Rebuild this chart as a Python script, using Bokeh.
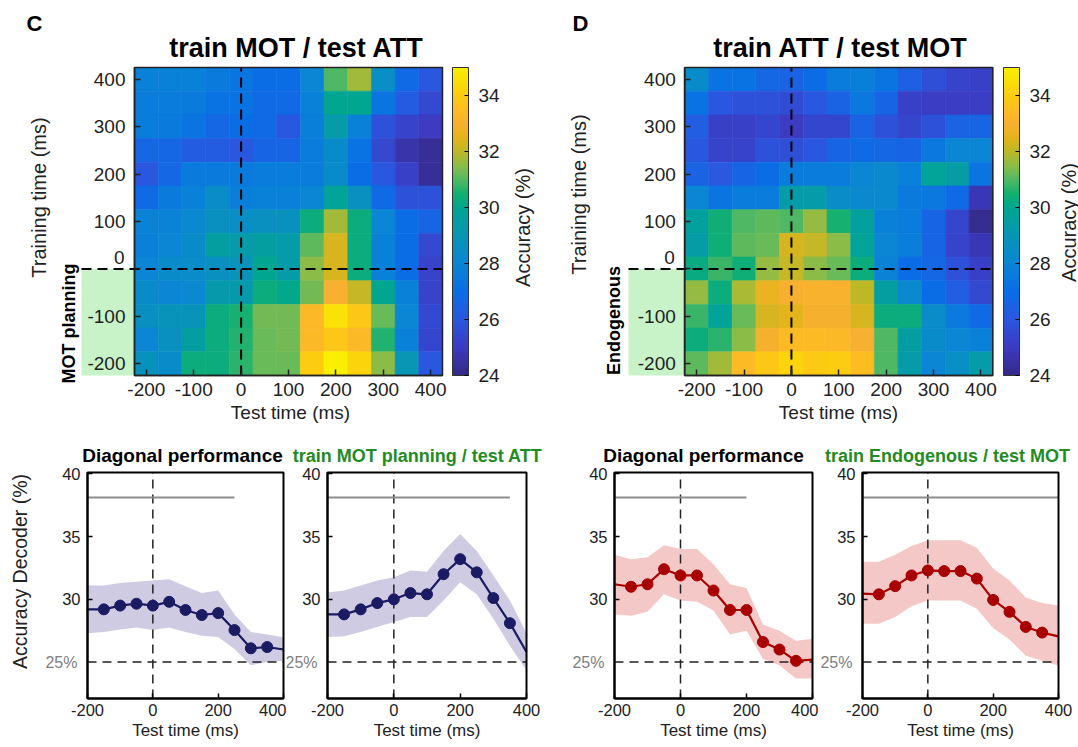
import numpy as np
from bokeh.plotting import figure
from bokeh.models import (Range1d, LinearAxis, FixedTicker, ColorBar,
                          LinearColorMapper, ColumnDataSource)
from bokeh.layouts import column, row
from bokeh.embed import file_html
from bokeh.resources import INLINE
from bokeh.core.properties import value
from bokeh.transform import transform

# ---------------------------------------------------------------- data
test_times = [-200, -150, -100, -50, 0, 50, 100, 150, 200, 250, 300, 350, 400]
train_times = [400, 350, 300, 250, 200, 150, 100, 50, 0, -50, -100, -150, -200]
heat_ticks = [-200, -100, 0, 100, 200, 300, 400]
colorbar_ticks = [24, 26, 28, 30, 32, 34]
acc_low, acc_high = 24, 35
onset = 0

# train MOT / test ATT  (rows: training time 400 -> -200, cols: test time -200 -> 400)
acc_C = [
    [27.8, 27.8, 27.8, 27.5, 27.3, 27.0, 27.0, 28.0, 31.0, 31.7, 28.5, 26.8, 26.0],
    [27.6, 27.6, 27.5, 27.2, 27.2, 26.8, 26.8, 27.8, 30.0, 30.0, 27.3, 26.2, 25.5],
    [27.6, 27.5, 27.3, 26.7, 27.0, 26.8, 26.0, 27.7, 29.3, 27.8, 25.8, 25.3, 25.0],
    [26.7, 26.7, 26.2, 26.2, 26.0, 26.6, 26.6, 27.6, 28.3, 27.2, 25.5, 24.6, 24.3],
    [26.0, 26.7, 27.5, 27.5, 27.5, 27.6, 27.6, 27.6, 28.3, 27.0, 26.0, 25.2, 24.3],
    [26.8, 27.5, 27.8, 28.4, 27.7, 27.8, 27.8, 28.0, 29.8, 28.6, 26.8, 25.8, 25.8],
    [27.9, 27.9, 28.2, 28.6, 28.5, 28.6, 28.7, 30.3, 31.7, 30.3, 28.0, 27.0, 26.6],
    [27.8, 28.0, 28.3, 29.5, 29.3, 29.5, 29.3, 31.1, 32.3, 30.3, 27.8, 27.0, 25.5],
    [28.0, 28.3, 28.4, 28.6, 28.8, 30.0, 29.3, 31.5, 32.3, 30.3, 27.8, 27.0, 25.3],
    [28.3, 28.0, 28.1, 29.2, 29.2, 30.3, 30.1, 31.3, 33.0, 32.1, 30.0, 27.8, 25.3],
    [28.6, 28.8, 28.8, 30.3, 30.5, 31.3, 31.3, 33.3, 34.6, 33.8, 31.2, 28.0, 25.5],
    [28.0, 28.6, 29.5, 30.3, 30.6, 31.2, 31.3, 33.3, 33.8, 33.3, 30.6, 27.8, 25.4],
    [28.7, 28.3, 30.3, 30.3, 30.7, 31.2, 31.2, 34.0, 35.0, 34.2, 31.5, 29.0, 26.0],
]
# train ATT / test MOT
acc_D = [
    [28.3, 27.2, 27.2, 26.7, 26.5, 27.0, 27.6, 27.7, 27.3, 26.4, 25.7, 25.3, 25.2],
    [27.2, 26.0, 25.8, 25.8, 25.6, 26.0, 26.5, 27.4, 26.6, 25.2, 25.1, 25.1, 25.1],
    [26.3, 25.2, 25.2, 25.4, 25.0, 25.4, 25.4, 26.5, 25.8, 25.4, 25.8, 26.5, 26.6],
    [26.0, 25.3, 25.3, 25.8, 25.7, 26.0, 26.6, 26.8, 26.7, 26.6, 27.4, 28.0, 28.0],
    [26.5, 26.1, 26.6, 27.0, 27.6, 27.6, 27.6, 28.0, 28.2, 27.8, 29.8, 29.4, 27.3],
    [28.0, 27.3, 27.6, 27.6, 29.3, 29.3, 28.4, 28.2, 28.2, 27.5, 27.4, 26.8, 24.8],
    [29.6, 30.4, 31.0, 31.1, 31.0, 31.6, 30.5, 29.6, 27.8, 27.6, 26.6, 25.4, 24.2],
    [29.4, 30.4, 31.1, 31.2, 32.3, 32.1, 31.5, 29.8, 28.0, 27.7, 26.6, 25.3, 24.8],
    [30.2, 30.8, 30.4, 31.6, 32.1, 31.5, 31.2, 30.3, 27.9, 27.0, 26.7, 25.8, 25.2],
    [31.6, 30.3, 31.8, 32.6, 33.0, 33.1, 33.1, 32.0, 29.5, 28.2, 27.0, 26.3, 25.5],
    [30.8, 29.8, 31.2, 32.3, 32.5, 32.9, 32.9, 32.3, 30.3, 30.3, 28.4, 27.5, 26.8],
    [30.3, 30.7, 31.5, 32.9, 33.4, 33.4, 33.3, 33.0, 31.0, 29.5, 28.3, 28.0, 27.8],
    [31.1, 31.7, 33.4, 33.8, 34.2, 33.9, 34.0, 33.5, 31.0, 29.3, 28.0, 28.5, 29.3],
]

diag_times = [-200, -150, -100, -50, 0, 50, 100, 150, 200, 250, 300, 350, 400]
line_xticks = [-200, 0, 200, 400]
line_yticks = [30, 35, 40]
line_ylim = (22.1, 40.1)
chance = 25
sig_level = 38.1

# C: diagonal performance
c_diag_mean = [29.2, 29.2, 29.5, 29.65, 29.5, 29.8, 29.15, 28.75, 28.9, 27.55, 26.1, 26.2, 26.0]
c_diag_low = [27.3, 27.4, 27.6, 27.75, 27.55, 27.75, 27.4, 27.1, 27.0, 26.05, 24.75, 25.0, 25.1]
c_diag_high = [31.1, 31.1, 31.3, 31.4, 31.5, 31.6, 31.05, 30.5, 30.7, 28.8, 27.4, 27.2, 26.97]
c_diag_sig = [-200, 250]
# C: train MOT planning / test ATT
c_plan_mean = [28.8, 28.8, 29.2, 29.7, 30.0, 30.5, 30.4, 32.0, 33.2, 32.15, 30.1, 28.1, 25.8]
c_plan_low = [27.0, 27.05, 27.4, 27.8, 28.2, 28.6, 28.6, 29.9, 31.35, 30.4, 28.45, 26.3, 24.35]
c_plan_high = [30.55, 30.7, 31.1, 31.5, 31.75, 32.3, 32.2, 33.85, 35.2, 33.85, 31.9, 29.9, 27.3]
c_plan_sig = [-200, 350]
# D: diagonal performance
d_diag_mean = [31.2, 31.0, 31.2, 32.4, 31.9, 31.9, 30.7, 29.15, 29.15, 26.6, 26.0, 25.1, 25.2]
d_diag_low = [28.8, 28.7, 29.0, 30.4, 29.9, 29.8, 29.1, 27.2, 27.5, 25.25, 24.75, 23.7, 23.7]
d_diag_high = [33.55, 33.2, 33.35, 34.3, 34.0, 34.0, 32.8, 31.2, 30.9, 28.0, 27.5, 26.7, 26.85]
d_diag_sig = [-200, 200]
# D: train Endogenous / test MOT
d_endo_mean = [30.45, 30.4, 31.05, 31.9, 32.3, 32.25, 32.25, 31.65, 29.95, 29.0, 27.8, 27.35, 27.05]
d_endo_low = [28.05, 28.05, 28.6, 29.45, 29.9, 29.9, 29.9, 29.25, 27.7, 26.8, 25.5, 25.1, 24.7]
d_endo_high = [33.0, 33.0, 33.55, 34.25, 34.7, 34.7, 34.7, 34.1, 32.45, 31.5, 30.15, 29.7, 29.5]
d_endo_sig = [-200, 400]

# ---------------------------------------------------------------- style
FONT = "Liberation Sans"
INK = "#222222"
GREEN_TXT = "#238B23"
PARULA_ANCHORS = [
    (0.000, "#352A87"), (0.091, "#3C3BC3"), (0.182, "#2A58E0"), (0.273, "#0A6EE6"),
    (0.364, "#0A86D4"), (0.455, "#0896B4"), (0.545, "#00A690"), (0.591, "#14B070"),
    (0.636, "#50B864"), (0.682, "#8CBC48"), (0.727, "#BCB828"), (0.773, "#E4B41C"),
    (0.818, "#F8B030"), (0.864, "#FDBC22"), (0.909, "#FCCC10"), (1.000, "#F8F000"),
]


def build_palette(n=256):
    pos = [a[0] for a in PARULA_ANCHORS]
    rgb = [tuple(int(a[1][i:i + 2], 16) for i in (1, 3, 5)) for a in PARULA_ANCHORS]
    out = []
    for t in np.linspace(0, 1, n):
        c = [np.interp(t, pos, [r[k] for r in rgb]) for k in range(3)]
        out.append("#%02x%02x%02x" % tuple(int(round(v)) for v in c))
    return out


PARULA = build_palette()


def hyphen_labels(ticks):
    # plain ASCII hyphen for negative tick labels (as in the original figure)
    return {t: str(t) for t in ticks if t < 0}


def add_text(p, X, Y, px, py, text, size, bold=False, angle=0.0,
             align="center", baseline="middle", color=INK):
    p.text(x=[X(px)], y=[Y(py)], text=[text], angle=angle,
           text_font=value(FONT), text_font_size=size,
           text_font_style="bold" if bold else "normal",
           text_align=align, text_baseline=baseline, text_color=color)


def make_heatmap(acc, title, letter, cond, W, L, cb_left, green_left, txt):
    H, T, S = 440, 67, 308
    step = test_times[1] - test_times[0]
    lo = min(test_times) - step / 2
    hi = max(test_times) + step / 2
    s = S / (hi - lo)

    def X(px):
        return lo + (px - L) / s

    def Y(py):
        return lo + (T + S - py) / s

    p = figure(width=W, height=H, x_range=Range1d(X(0), X(W)),
               y_range=Range1d(Y(H), Y(0)), output_backend="svg",
               toolbar_location=None, title=None, x_axis_location=None,
               y_axis_location=None, min_border=0, outline_line_color=None)
    p.grid.visible = False

    xs, ys, vs = [], [], []
    for i, tr in enumerate(train_times):
        for j, te in enumerate(test_times):
            xs.append(te)
            ys.append(tr)
            vs.append(acc[i][j])
    src = ColumnDataSource(dict(x=xs, y=ys, v=vs))
    mapper = LinearColorMapper(palette=PARULA, low=acc_low, high=acc_high)
    p.rect("x", "y", width=step, height=step, source=src,
           fill_color=transform("v", mapper), line_color=transform("v", mapper),
           line_width=0.6)

    # condition patch (left of the matrix, below onset)
    p.quad(left=[X(green_left)], right=[lo], bottom=[lo], top=[onset],
           fill_color="#C8F2C8", line_color=None)

    p.segment(x0=[onset], y0=[lo], x1=[onset], y1=[hi], line_color="black",
              line_width=2, line_dash="10 6")
    p.segment(x0=[X(green_left)], y0=[onset], x1=[hi], y1=[onset],
              line_color="black", line_width=2, line_dash="10 6")
    p.quad(left=[lo], right=[hi], bottom=[lo], top=[hi], fill_color=None,
           line_color=INK, line_width=1.5)

    common = dict(bounds=(lo, hi), ticker=FixedTicker(ticks=heat_ticks),
                  major_tick_in=6, major_tick_out=0, minor_tick_line_color=None,
                  major_label_text_font=FONT, major_label_text_font_size="19px",
                  major_label_text_color=INK,
                  axis_line_width=1.5, axis_line_color=INK,
                  major_tick_line_color=INK, major_tick_line_width=1.5)
    ylabels = hyphen_labels(heat_ticks)
    ylabels[onset] = ""  # drawn separately, lifted above the onset line
    yax = LinearAxis(fixed_location=lo, major_label_standoff=9,
                     major_label_overrides=ylabels, **common)
    p.add_layout(yax, "left")
    xax = LinearAxis(fixed_location=lo, major_label_standoff=7,
                     major_label_overrides=hyphen_labels(heat_ticks), **common)
    p.add_layout(xax, "below")
    add_text(p, X, Y, L - 10, 257, str(onset), "19px", align="right")

    cb = ColorBar(color_mapper=mapper, location=(cb_left, H - T - S), width=16,
                  height=S, padding=0, ticker=FixedTicker(ticks=colorbar_ticks),
                  major_label_text_font=FONT, major_label_text_font_size="19px",
                  major_label_text_color=INK,
                  major_tick_line_color="black", major_tick_in=4, major_tick_out=0,
                  label_standoff=10, bar_line_color="#333333", bar_line_width=1,
                  background_fill_alpha=0, border_line_color=None,
                  orientation="vertical")
    p.add_layout(cb)

    add_text(p, X, Y, txt["letter"][0], txt["letter"][1], letter, "22px",
             bold=True, align="left", color="black")
    add_text(p, X, Y, txt["title"][0], 47, title, "27px", bold=True, color="black")
    add_text(p, X, Y, txt["ylab"][0], txt["ylab"][1], "Training time (ms)", "20px",
             angle=np.pi / 2)
    add_text(p, X, Y, txt["cond"][0], txt["cond"][1], cond, "18px", bold=True,
             angle=np.pi / 2, color="black")
    add_text(p, X, Y, txt["xlab"][0], 412, "Test time (ms)", "19px")
    add_text(p, X, Y, txt["cblab"][0], txt["cblab"][1], "Accuracy (%)", "20px",
             angle=np.pi / 2)
    return p


def make_line(mean, low, high, sig, color, band, title, title_color, title_size,
              W, fl, fr, title_x, ylabel=None):
    H, FT, FB = 307, 32, 258
    x0, x1 = min(diag_times), max(diag_times)
    y0, y1 = line_ylim
    sx = (fr - fl) / (x1 - x0)
    sy = (FB - FT) / (y1 - y0)

    def X(px):
        return x0 + (px - fl) / sx

    def Y(py):
        return y0 + (FB - py) / sy

    p = figure(width=W, height=H, x_range=Range1d(X(0), X(W)),
               y_range=Range1d(Y(H), Y(0)), output_backend="svg",
               toolbar_location=None, title=None, x_axis_location=None,
               y_axis_location=None, min_border=0, outline_line_color=None)
    p.grid.visible = False

    p.varea(x=diag_times, y1=low, y2=high, fill_color=band, fill_alpha=1)
    p.segment(x0=[onset], y0=[y0], x1=[onset], y1=[y1], line_color=INK,
              line_width=1.5, line_dash="9 6")
    p.segment(x0=[x0], y0=[chance], x1=[x1], y1=[chance], line_color=INK,
              line_width=1.5, line_dash="9 6")
    p.segment(x0=[sig[0]], y0=[sig_level], x1=[sig[1]], y1=[sig_level],
              line_color="#8C8C8C", line_width=2)
    p.line(diag_times, mean, line_color=color, line_width=2.2)
    p.scatter(diag_times[1:-1], mean[1:-1], size=11, fill_color=color,
              line_color=color)
    p.quad(left=[x0], right=[x1], bottom=[y0], top=[y1], fill_color=None,
           line_color="black", line_width=2)

    tick_style = dict(major_tick_in=5, major_tick_out=0, minor_tick_line_color=None,
                      major_label_text_font=FONT, major_label_text_font_size="16.5px",
                      major_label_text_color=INK, axis_line_width=2,
                      axis_line_color="black", major_tick_line_width=1.5,
                      major_tick_line_color="black")
    xax = LinearAxis(fixed_location=y0, bounds=(x0, x1),
                     ticker=FixedTicker(ticks=line_xticks),
                     major_label_overrides=hyphen_labels(line_xticks),
                     major_label_standoff=5, **tick_style)
    p.add_layout(xax, "below")
    yax = LinearAxis(fixed_location=x0, bounds=(y0, y1),
                     ticker=FixedTicker(ticks=line_yticks),
                     major_label_standoff=7, **tick_style)
    p.add_layout(yax, "left")
    cax = LinearAxis(fixed_location=x0, ticker=FixedTicker(ticks=[chance]),
                     major_label_overrides={chance: "%d%%" % chance},
                     axis_line_color=None, major_tick_line_color=None,
                     minor_tick_line_color=None, major_label_text_color="#808080",
                     major_label_text_font=FONT, major_label_text_font_size="16px",
                     major_label_standoff=4)
    p.add_layout(cax, "left")

    add_text(p, X, Y, title_x, 15, title, title_size, bold=True, color=title_color)
    add_text(p, X, Y, (fl + fr) / 2, 290, "Test time (ms)", "17px")
    if ylabel:
        add_text(p, X, Y, 19, 131, ylabel, "19.5px", angle=np.pi / 2)
    return p


txt_C = dict(letter=(26, 23), title=(296,), ylab=(38, 197), cond=(68, 323),
             xlab=(290,), cblab=(522, 227))
txt_D = dict(letter=(27, 23), title=(295,), ylab=(33, 194), cond=(68, 320),
             xlab=(293,), cblab=(523, 222))

figC = make_heatmap(acc_C, "train MOT / test ATT", "C", "MOT planning",
                    545, 134, 452, 81, txt_C)
figD = make_heatmap(acc_D, "train ATT / test MOT", "D", "Endogenous",
                    533, 139.3, 458, 83, txt_D)

NAVY, NAVY_BAND = "#1B1B63", "#CECBE2"
RED, RED_BAND = "#A80000", "#F5C8C8"
p1 = make_line(c_diag_mean, c_diag_low, c_diag_high, c_diag_sig, NAVY, NAVY_BAND,
               "Diagonal performance", "black", "19px", 286, 87, 283, 182,
               ylabel="Accuracy Decoder (%)")
p2 = make_line(c_plan_mean, c_plan_low, c_plan_high, c_plan_sig, NAVY, NAVY_BAND,
               "train MOT planning / test ATT", GREEN_TXT, "18px", 274, 41, 240, 131)
p3 = make_line(d_diag_mean, d_diag_low, d_diag_high, d_diag_sig, RED, RED_BAND,
               "Diagonal performance", "black", "19px", 258, 54, 252, 143)
p4 = make_line(d_endo_mean, d_endo_low, d_endo_high, d_endo_sig, RED, RED_BAND,
               "train Endogenous / test MOT", GREEN_TXT, "18px", 260, 44, 240, 129)

layout = column(row(figC, figD), row(p1, p2, p3, p4))
open("out.html", "w").write(file_html(layout, INLINE))
